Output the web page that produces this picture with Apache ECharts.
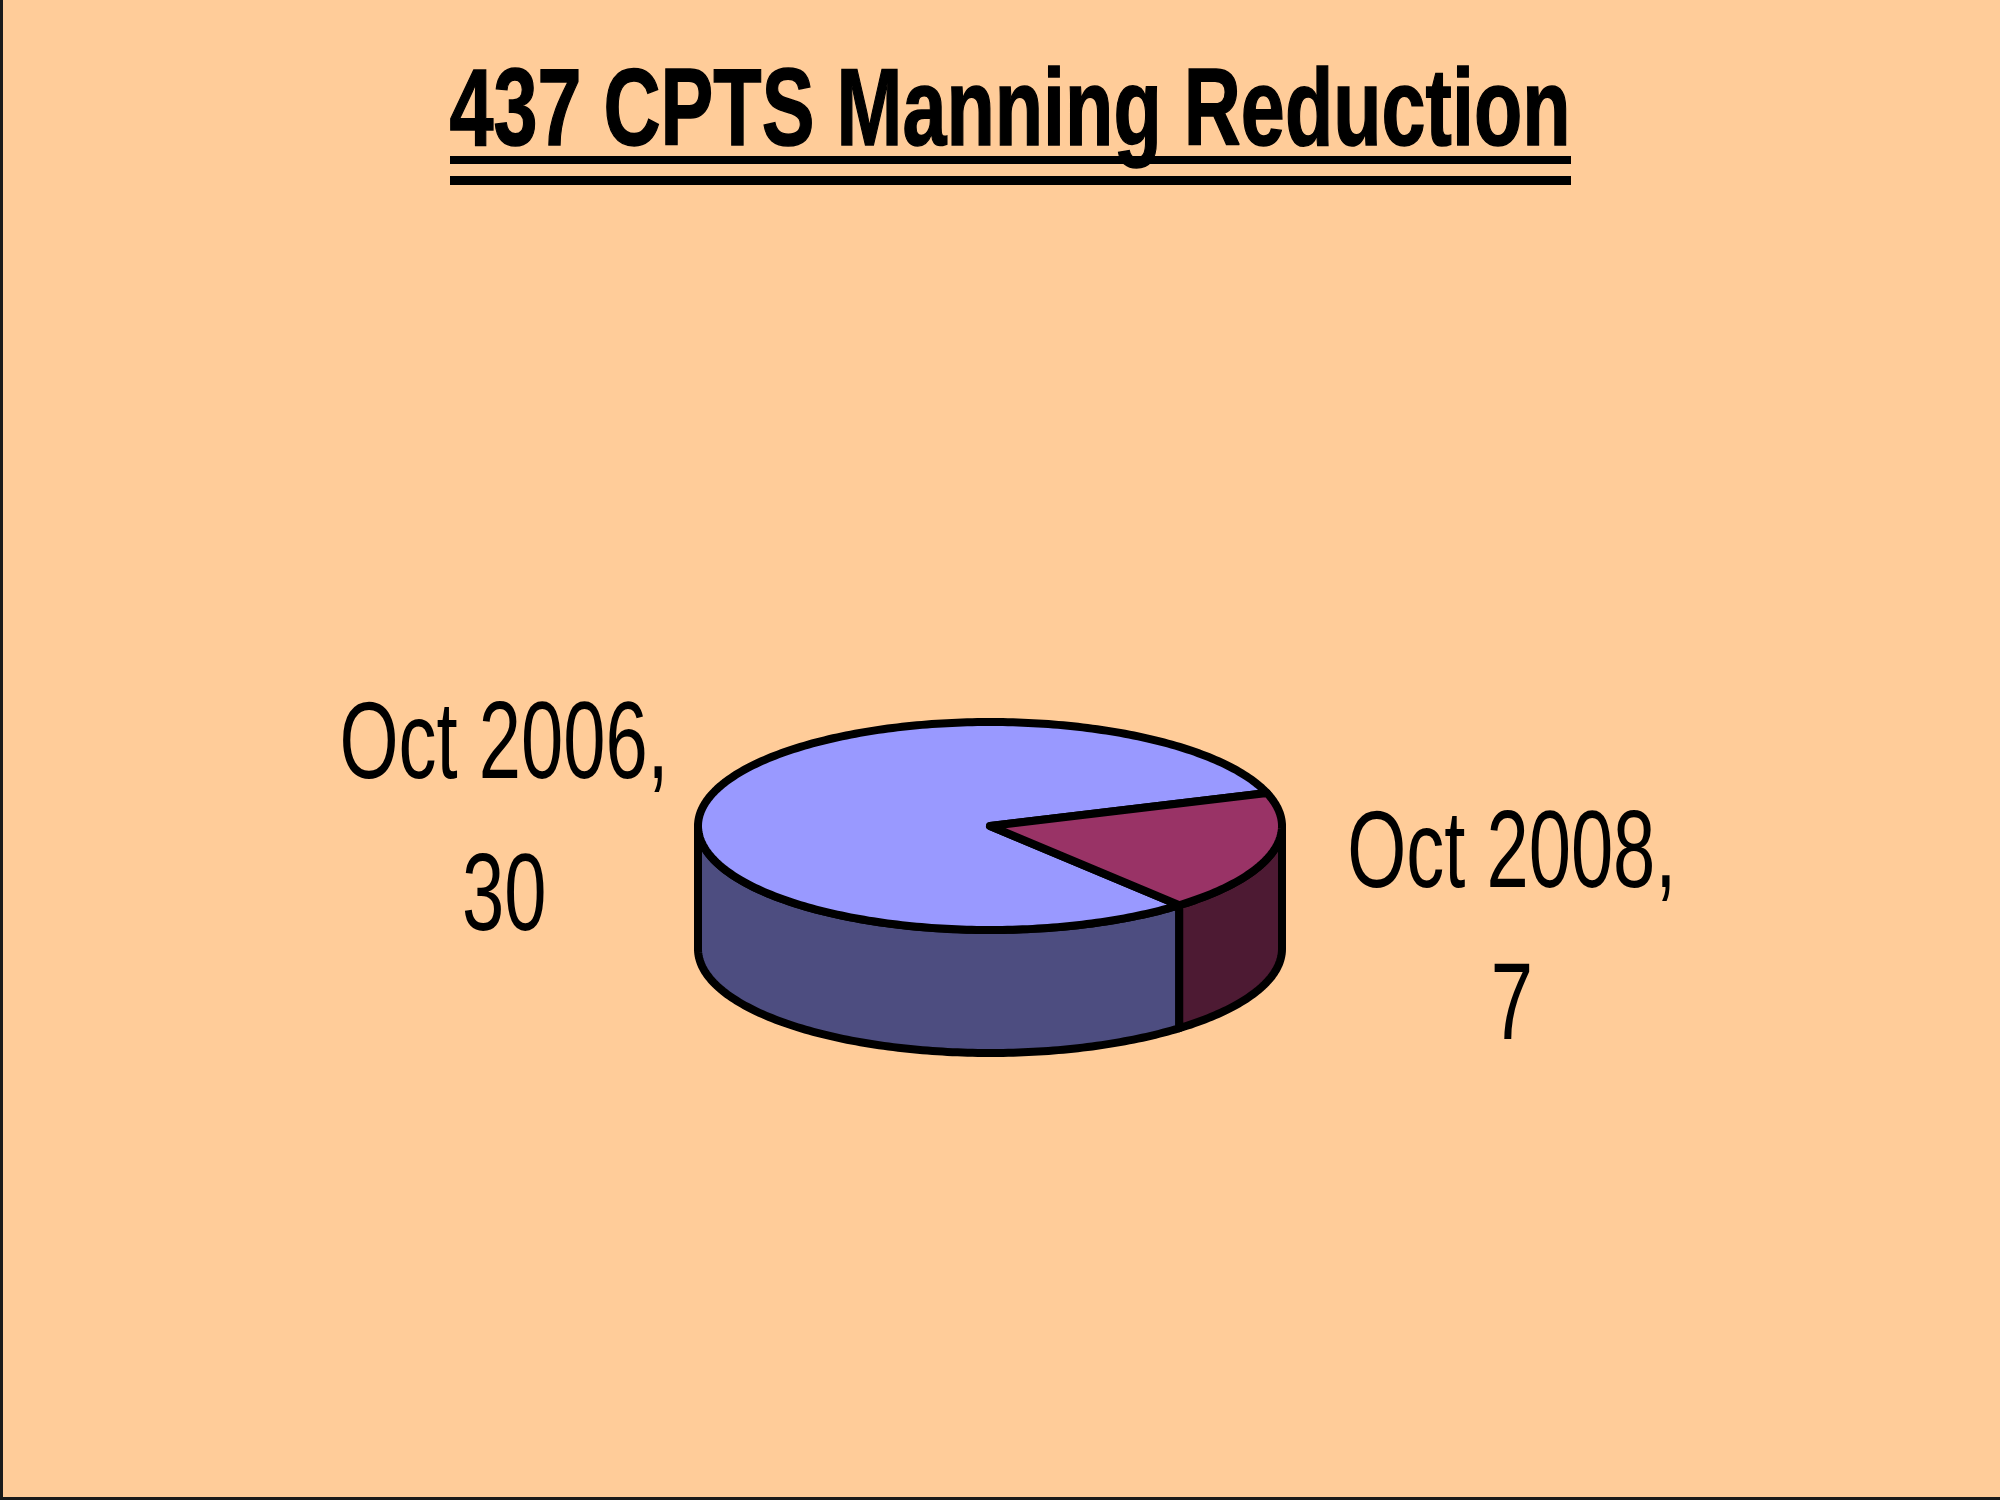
<!DOCTYPE html>
<html>
<head>
<meta charset="utf-8">
<script src="https://cdn.jsdelivr.net/npm/echarts@6/dist/echarts.min.js"></script>
<style>
html,body{margin:0;padding:0;background:#FFCC99;}
#chart{width:2000px;height:1500px;}
</style>
</head>
<body>
<div id="chart"></div>
<script>
// ---- data ----
const titleText = '437 CPTS Manning Reduction';
const categories = ['Oct 2006', 'Oct 2008'];
const values = [30, 7];
const topColors = ['#9999FF', '#993366'];
const sideColors = ['#4D4D80', '#4D1A33'];

// ---- layout of the fake 3D pie ----
const PIE = { cx: 990, cy: 826, rx: 292, ry: 104, depth: 123, startAngle: -49.6 };
const LABEL = { dx: 18, lx: 523, dy: 52, ly: 203, fontSize: 110, lineHeight: 152, scaleX: 0.69 };
const total = values.reduce((a, b) => a + b, 0);

function pt(deg, dy) {
  const r = deg * Math.PI / 180;
  return [PIE.cx + PIE.rx * Math.cos(r), PIE.cy - PIE.ry * Math.sin(r) + (dy || 0)];
}
function arc(from, to, dy) {
  const pts = [];
  const n = Math.max(2, Math.ceil(Math.abs(to - from)));
  for (let k = 0; k <= n; k++) pts.push(pt(from + (to - from) * k / n, dy));
  return pts;
}

function renderItem(params, api) {
  const i = params.dataIndex;
  let before = 0;
  for (let j = 0; j < i; j++) before += values[j];
  const v = api.value(0);
  const aStart = PIE.startAngle - before / total * 360;
  const aEnd = aStart - v / total * 360;
  const lo = aEnd, hi = aStart;
  const children = [];
  // visible outer wall (front half: 180..360 mod 360)
  for (let k = -3; k <= 2; k++) {
    const s = Math.max(lo, 180 + 360 * k);
    const e = Math.min(hi, 360 + 360 * k);
    if (e > s) {
      const top = arc(s, e, 0);
      const bot = arc(e, s, PIE.depth);
      children.push({
        type: 'polygon', z2: 1,
        shape: { points: top.concat(bot) },
        style: { fill: sideColors[i], stroke: '#000', lineWidth: 8, lineJoin: 'round' }
      });
    }
  }
  // top face
  children.push({
    type: 'polygon', z2: 5,
    shape: { points: [[PIE.cx, PIE.cy]].concat(arc(aStart, aEnd, 0)) },
    style: { fill: topColors[i], stroke: '#000', lineWidth: 8, lineJoin: 'round' }
  });
  // label
  const mid = (aStart + aEnd) / 2 * Math.PI / 180;
  children.push({
    type: 'text', z2: 10,
    x: PIE.cx + LABEL.dx + LABEL.lx * Math.cos(mid),
    y: PIE.cy + LABEL.dy - LABEL.ly * Math.sin(mid),
    scaleX: LABEL.scaleX,
    style: {
      text: categories[i] + ',\n' + v,
      fill: '#000',
      fontSize: LABEL.fontSize,
      fontFamily: '"Liberation Sans", Arial, sans-serif',
      lineHeight: LABEL.lineHeight,
      align: 'center',
      verticalAlign: 'middle'
    }
  });
  return { type: 'group', children: children };
}

const chart = echarts.init(document.getElementById('chart'), null, { renderer: 'canvas' });
chart.setOption({
  animation: false,
  backgroundColor: '#FFCC99',
  graphic: [
    {
      type: 'text', x: 1010, y: 115, scaleX: 0.726,
      style: {
        text: titleText, fill: '#000', fontSize: 109, fontWeight: 'bold',
        fontFamily: '"Liberation Sans", Arial, sans-serif',
        stroke: '#000', lineWidth: 1.5,
        align: 'center', verticalAlign: 'middle'
      }
    },
    { type: 'rect', shape: { x: 450, y: 156, width: 1121, height: 8 }, style: { fill: '#000' } },
    { type: 'rect', shape: { x: 450, y: 176, width: 1121, height: 9 }, style: { fill: '#000' } },
    { type: 'rect', shape: { x: 0, y: 0, width: 3, height: 1500 }, style: { fill: '#1a1a1a' } },
    { type: 'rect', shape: { x: 0, y: 1497, width: 2000, height: 3 }, style: { fill: '#1a1a1a' } }
  ],
  series: [{
    type: 'custom',
    coordinateSystem: 'none',
    renderItem: renderItem,
    data: values.map((v, i) => ({ name: categories[i], value: [v] }))
  }]
});
</script>
</body>
</html>
